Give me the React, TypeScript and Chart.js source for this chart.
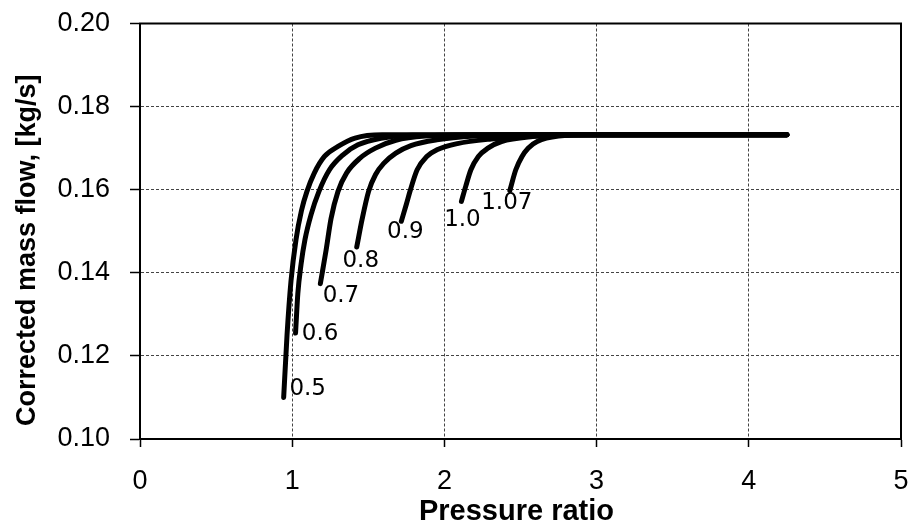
import React, { useEffect, useRef } from 'react';
import { Chart, registerables } from 'chart.js';

Chart.register(...registerables);

// Axis ticks
const xTickValues = [0, 1, 2, 3, 4, 5];
const yTickValues = [0.1, 0.12, 0.14, 0.16, 0.18, 0.2];

// Speed-line labels
const speedLabels = ['0.5', '0.6', '0.7', '0.8', '0.9', '1.0', '1.07'];

// Pressure ratio (x) and corrected mass flow (y) per speed line
const pr05 = [0.944, 0.966, 0.992, 1.025, 1.061, 1.097, 1.145, 1.212, 1.301, 1.413, 1.59, 4.25];
const mf05 = [0.11, 0.125, 0.138, 0.148, 0.155, 0.1596, 0.164, 0.168, 0.1704, 0.1724, 0.1732, 0.1732];

const pr06 = [1.022, 1.037, 1.058, 1.084, 1.124, 1.176, 1.245, 1.334, 1.432, 1.583, 1.787, 4.25];
const mf06 = [0.1255, 0.135, 0.142, 0.148, 0.154, 0.1596, 0.1648, 0.1684, 0.1708, 0.1724, 0.1731, 0.1732];

const pr07 = [1.185, 1.223, 1.255, 1.301, 1.357, 1.446, 1.547, 1.681, 1.873, 2.2, 4.25];
const mf07 = [0.1374, 0.1455, 0.153, 0.1596, 0.164, 0.1676, 0.17, 0.1719, 0.1729, 0.1732, 0.1732];

const pr08 = [1.424, 1.46, 1.502, 1.547, 1.603, 1.681, 1.78, 1.95, 2.2, 2.5, 4.25];
const mf08 = [0.1462, 0.153, 0.1596, 0.1636, 0.1664, 0.1688, 0.1706, 0.172, 0.1729, 0.1732, 0.1732];

const pr09 = [1.717, 1.75, 1.777, 1.821, 1.884, 1.951, 2.085, 2.308, 2.6, 2.9, 4.25];
const mf09 = [0.1524, 0.1565, 0.16, 0.1648, 0.168, 0.1696, 0.1711, 0.1722, 0.1729, 0.1732, 0.1732];

const pr10 = [2.112, 2.14, 2.174, 2.223, 2.286, 2.375, 2.58, 2.85, 4.25];
const mf10 = [0.1572, 0.1608, 0.1648, 0.168, 0.17, 0.1716, 0.1728, 0.1732, 0.1732];

const pr107 = [2.43, 2.469, 2.51, 2.55, 2.61, 2.75, 2.95, 4.25];
const mf107 = [0.1598, 0.1648, 0.168, 0.17, 0.1716, 0.1729, 0.1732, 0.1732];

const seriesX = [pr05, pr06, pr07, pr08, pr09, pr10, pr107];
const seriesY = [mf05, mf06, mf07, mf08, mf09, mf10, mf107];

// Label placement relative to the first point of each line (pixels, styling)
const labelOffsets = [
  [24, -8.5],
  [24.5, 0.5],
  [20.6, 12.5],
  [4, 14],
  [4, 10.5],
  [1, 19],
  [-3, 12.7],
];

const xTitle = 'Pressure ratio';
const yTitle = 'Corrected mass flow, [kg/s]';

const overlayPlugin = {
  id: 'overlay',
  beforeDatasetsDraw(chart: any) {
    const { ctx, chartArea } = chart;
    ctx.save();
    ctx.strokeStyle = '#000';
    ctx.lineWidth = 2;
    ctx.strokeRect(chartArea.left, chartArea.top, chartArea.right - chartArea.left, chartArea.bottom - chartArea.top);
    ctx.restore();
  },
  afterDraw(chart: any) {
    const { ctx, chartArea } = chart;
    const xs = chart.scales.x;
    const ys = chart.scales.y;
    ctx.save();
    ctx.fillStyle = '#000';
    ctx.font = '23px "DejaVu Sans", sans-serif';
    ctx.textAlign = 'center';
    ctx.textBaseline = 'middle';
    chart.data.datasets.forEach((ds: any, i: number) => {
      const p0 = ds.data[0];
      const px = xs.getPixelForValue(p0.x) + labelOffsets[i][0];
      const py = ys.getPixelForValue(p0.y) + labelOffsets[i][1];
      ctx.fillText(speedLabels[i], px, py);
    });
    // Axis titles
    ctx.font = 'bold 29px "Liberation Sans", Arial, sans-serif';
    ctx.textBaseline = 'alphabetic';
    ctx.textAlign = 'center';
    ctx.fillText(xTitle, (chartArea.left + chartArea.right) / 2 - 4, 520);
    ctx.translate(35, (chartArea.top + chartArea.bottom) / 2 + 19);
    ctx.rotate(-Math.PI / 2);
    ctx.font = 'bold 27px "Liberation Sans", Arial, sans-serif';
    ctx.fillText(yTitle, 0, 0);
    ctx.restore();
  },
};

const zeroPadding = (scale: any) => {
  scale.paddingTop = 0;
  scale.paddingBottom = 0;
  scale.paddingLeft = 0;
  scale.paddingRight = 0;
};

export default function App() {
  const canvasRef = useRef<HTMLCanvasElement | null>(null);

  useEffect(() => {
    const canvas = canvasRef.current;
    if (!canvas) return;
    const datasets = seriesX.map((xs, i) => ({
      label: speedLabels[i],
      data: xs.map((x, j) => ({ x, y: seriesY[i][j] })),
      borderColor: '#000',
      backgroundColor: '#000',
      borderWidth: 5,
      borderCapStyle: 'round' as const,
      borderJoinStyle: 'round' as const,
      pointRadius: 0,
      cubicInterpolationMode: 'monotone' as const,
      fill: false,
    }));

    const tickFont = { family: '"Liberation Sans", Arial, sans-serif', size: 27 };

    const chart = new Chart(canvas, {
      type: 'line',
      data: { datasets },
      options: {
        animation: false,
        responsive: false,
        devicePixelRatio: 1,
        layout: { padding: { left: 0, right: 8, top: 23.5, bottom: 0 } },
        plugins: {
          legend: { display: false },
          tooltip: { enabled: false },
          title: { display: false },
        },
        scales: {
          x: {
            type: 'linear',
            min: xTickValues[0],
            max: xTickValues[xTickValues.length - 1],
            afterBuildTicks: (scale: any) => {
              scale.ticks = xTickValues.map((v) => ({ value: v }));
            },
            ticks: {
              color: '#000',
              font: tickFont,
              padding: 18,
              maxRotation: 0,
              autoSkip: false,
              callback: (v: any) => String(v),
            },
            grid: {
              color: '#444',
              lineWidth: 1,
              tickLength: 8,
              tickColor: '#000',
              tickWidth: 1.5,
            },
            border: { display: true, color: '#000', width: 2, dash: [3, 2] },
            afterFit: (scale: any) => {
              scale.height = 84;
              zeroPadding(scale);
            },
          },
          y: {
            type: 'linear',
            min: yTickValues[0],
            max: yTickValues[yTickValues.length - 1],
            afterBuildTicks: (scale: any) => {
              scale.ticks = yTickValues.map((v) => ({ value: v }));
            },
            ticks: {
              color: '#000',
              font: tickFont,
              padding: 20,
              autoSkip: false,
              callback: (v: any) => Number(v).toFixed(2),
            },
            grid: {
              color: '#444',
              lineWidth: 1,
              tickLength: 10,
              tickColor: '#000',
              tickWidth: 1.5,
            },
            border: { display: true, color: '#000', width: 2, dash: [3, 2] },
            afterFit: (scale: any) => {
              scale.width = 140;
              zeroPadding(scale);
            },
          },
        },
      },
      plugins: [overlayPlugin],
    } as any);

    return () => {
      chart.destroy();
    };
  }, []);

  return (
    <div style={{ position: 'absolute', left: 0, top: 0, width: 909, height: 523, background: '#fff' }}>
      <canvas ref={canvasRef} width={909} height={523} style={{ display: 'block' }} />
    </div>
  );
}
